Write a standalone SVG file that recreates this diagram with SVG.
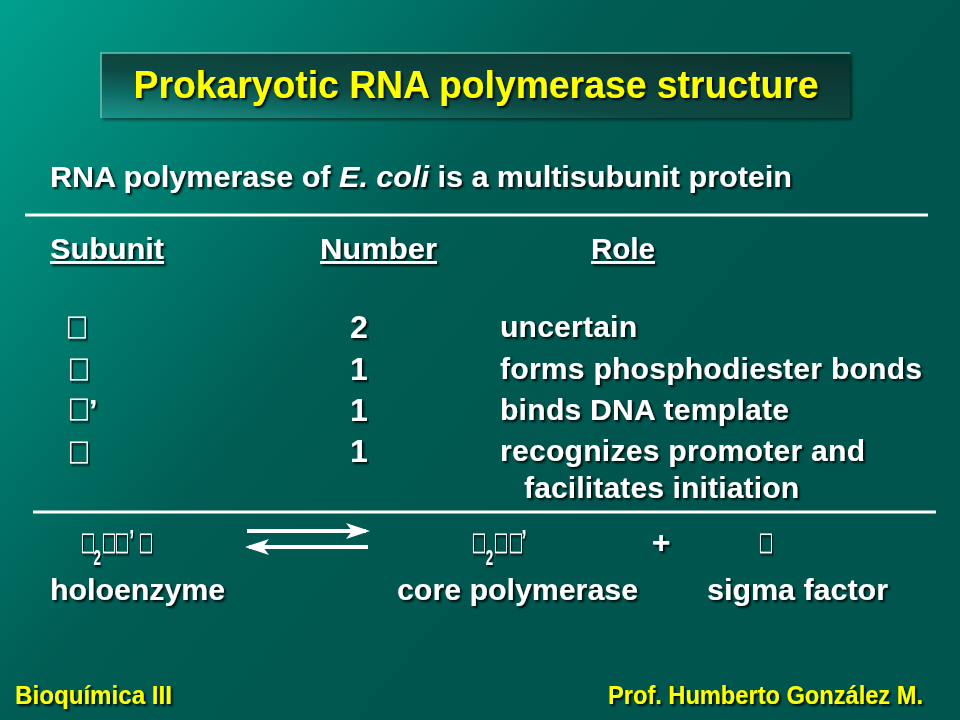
<svg xmlns="http://www.w3.org/2000/svg" width="960" height="720" viewBox="0 0 960 720">
<defs>
  <linearGradient id="bg" gradientUnits="userSpaceOnUse" x1="0" y1="0" x2="600" y2="500">
    <stop offset="0" stop-color="#00a08e"/>
    <stop offset="0.6" stop-color="#005c54"/>
    <stop offset="1" stop-color="#00564e"/>
  </linearGradient>
  <linearGradient id="tb" x1="0" y1="1" x2="1" y2="0">
    <stop offset="0" stop-color="#17948a"/>
    <stop offset="0.38" stop-color="#0a4a44"/>
    <stop offset="1" stop-color="#06302c"/>
  </linearGradient>
  <filter id="sh" x="-5%" y="-30%" width="110%" height="160%">
    <feDropShadow dx="2" dy="2" stdDeviation="0.8" flood-color="#000" flood-opacity="0.85"/>
  </filter>
  <filter id="bs" x="-5%" y="-20%" width="110%" height="150%">
    <feDropShadow dx="2" dy="2" stdDeviation="1.5" flood-color="#000" flood-opacity="0.5"/>
  </filter>
  <marker id="ah" viewBox="0 0 24 16" refX="20" refY="8" markerWidth="24" markerHeight="16" markerUnits="userSpaceOnUse" orient="auto">
    <path d="M0,0 L24,8 L0,16 L6,8 Z" fill="#fff"/>
  </marker>
</defs>
<style>
  text { font-family: "Liberation Sans", Arial, sans-serif; font-weight: bold; }
  .w { fill: #ffffff; filter: url(#sh); }
  .y { fill: #ffff00; filter: url(#sh); }
  .bx { font-family: "DejaVu Sans", sans-serif; font-weight: normal; }
  .ls { font-family: "Liberation Sans", Arial, sans-serif; font-weight: bold; }
  .rule { stroke: #ffffff; stroke-width: 3; }
  .arr { stroke: #ffffff; stroke-width: 4; fill: none; }
</style>

<rect x="0" y="0" width="960" height="720" fill="url(#bg)"/>

<g id="title">
  <rect x="101" y="53" width="749" height="65" fill="url(#tb)" filter="url(#bs)"/>
  <path d="M101,118 L101,53 L850,53" stroke="#6cc0b2" stroke-width="1.5" fill="none"/>
  <text class="y" x="476" y="98" text-anchor="middle" font-size="38" textLength="685" lengthAdjust="spacingAndGlyphs">Prokaryotic RNA polymerase structure</text>
</g>

<g id="subtitle">
  <text class="w" x="50" y="187" font-size="29" textLength="742" lengthAdjust="spacingAndGlyphs">RNA polymerase of <tspan font-style="italic">E. coli</tspan> is a multisubunit protein</text>
</g>

<g id="rules">
  <line class="rule" x1="25" y1="215" x2="928" y2="215"/>
  <line class="rule" x1="33" y1="512" x2="936" y2="512"/>
</g>

<g id="headers">
  <text class="w" x="50" y="259" font-size="29" textLength="114" lengthAdjust="spacingAndGlyphs" text-decoration="underline">Subunit</text>
  <text class="w" x="320" y="259" font-size="29" textLength="117" lengthAdjust="spacingAndGlyphs" text-decoration="underline">Number</text>
  <text class="w" x="591" y="259" font-size="29" textLength="64" lengthAdjust="spacingAndGlyphs" text-decoration="underline">Role</text>
</g>

<g id="row-alpha">
  <text class="w bx" transform="translate(66,335) scale(0.81,1)" font-size="29">□</text>
  <text class="w" x="350" y="338" font-size="32">2</text>
  <text class="w" x="500" y="337" font-size="30" textLength="137" lengthAdjust="spacing">uncertain</text>
</g>
<g id="row-beta">
  <text class="w bx" transform="translate(68,377) scale(0.81,1)" font-size="29">□</text>
  <text class="w" x="350" y="380" font-size="32">1</text>
  <text class="w" x="500" y="379" font-size="30" textLength="422" lengthAdjust="spacing">forms phosphodiester bonds</text>
</g>
<g id="row-betaprime">
  <text class="w bx" transform="translate(68,417) scale(0.81,1)" font-size="29">□</text>
  <text class="w" x="89" y="420" font-size="30">’</text>
  <text class="w" x="350" y="421" font-size="32">1</text>
  <text class="w" x="500" y="420" font-size="30" textLength="289" lengthAdjust="spacing">binds DNA template</text>
</g>
<g id="row-sigma">
  <text class="w bx" transform="translate(68,460) scale(0.81,1)" font-size="29">□</text>
  <text class="w" x="350" y="462" font-size="32">1</text>
  <text class="w" x="500" y="461" font-size="30" textLength="365" lengthAdjust="spacing">recognizes promoter and</text>
  <text class="w" x="524" y="498" font-size="30" textLength="275" lengthAdjust="spacing">facilitates initiation</text>
</g>

<g id="holoenzyme">
  <text class="w bx" transform="translate(0,550) scale(0.6,1)" font-size="26"><tspan x="134.2">□</tspan><tspan class="ls" x="156" dy="14.5" font-size="22">2</tspan><tspan x="169.2" dy="-14.5">□</tspan><tspan x="190.8">□</tspan><tspan class="ls" x="215.5" font-size="30">’</tspan><tspan x="230.8">□</tspan></text>
  <text class="w" x="50" y="600" font-size="29" textLength="175" lengthAdjust="spacingAndGlyphs">holoenzyme</text>
</g>

<g id="connectors">
  <line class="arr" x1="247" y1="531" x2="366" y2="531" marker-end="url(#ah)"/>
  <line class="arr" x1="368" y1="547" x2="249" y2="547" marker-end="url(#ah)"/>
</g>

<g id="core">
  <text class="w bx" transform="translate(0,550) scale(0.6,1)" font-size="26"><tspan x="785.8">□</tspan><tspan class="ls" x="809.5" dy="14.5" font-size="22">2</tspan><tspan x="822.5" dy="-14.5">□</tspan><tspan x="847.5">□</tspan><tspan class="ls" x="869" font-size="30">’</tspan></text>
  <text class="w" x="397" y="600" font-size="29" textLength="241" lengthAdjust="spacingAndGlyphs">core polymerase</text>
</g>

<g id="plus">
  <text class="w" x="661" y="553" font-size="32" text-anchor="middle">+</text>
</g>

<g id="sigma">
  <text class="w bx" transform="translate(758.5,550) scale(0.6,1)" font-size="26">□</text>
  <text class="w" x="707" y="600" font-size="29" textLength="181" lengthAdjust="spacingAndGlyphs">sigma factor</text>
</g>

<g id="footer">
  <text class="y" x="15" y="704" font-size="25" textLength="157" lengthAdjust="spacingAndGlyphs">Bioquímica III</text>
  <text class="y" x="608" y="704" font-size="25" textLength="315" lengthAdjust="spacingAndGlyphs">Prof. Humberto González M.</text>
</g>
</svg>
